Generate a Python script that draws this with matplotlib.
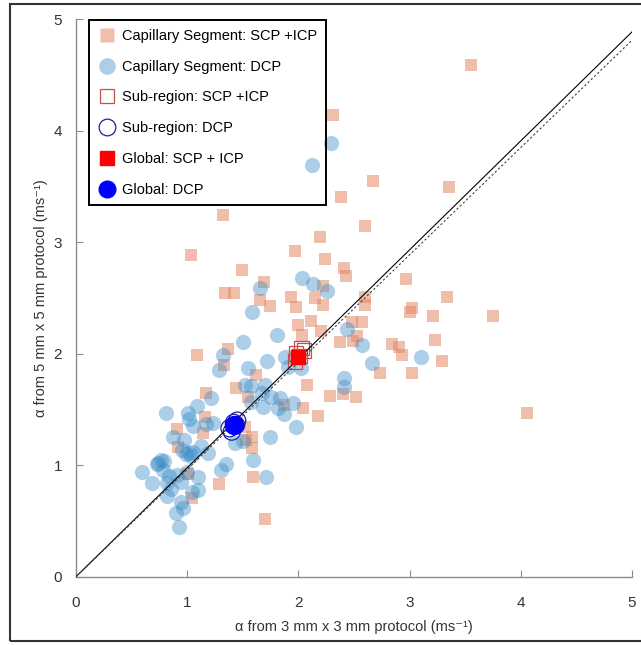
import matplotlib.pyplot as plt
from matplotlib.patches import Rectangle
from matplotlib.lines import Line2D

plt.rcParams['font.family'] = ['Liberation Sans', 'DejaVu Sans']

# capillary segments, SCP + ICP (x: 3x3 protocol, y: 5x5 protocol)
seg_scp_x = [3.55, 2.31, 1.32, 2.67, 3.35, 2.38, 2.60, 2.19, 1.03, 1.97, 2.24, 1.49, 2.41, 2.43,
             2.97, 1.69, 1.34, 1.42, 2.22, 3.34, 1.93, 1.65, 1.74, 1.98, 2.15, 2.22, 2.60, 2.60,
             3.02, 3.00, 3.21, 3.75, 3.23, 2.00, 2.11, 2.20, 2.03, 2.48, 2.57, 2.53, 2.49, 2.37,
             2.84, 2.90, 2.93, 3.29, 2.73, 3.02, 2.40, 2.52, 2.28, 2.08, 2.04, 2.18, 4.06, 1.09,
             1.37, 1.33, 1.62, 1.44, 1.17, 1.87, 1.16, 1.14, 0.91, 0.92, 1.01, 1.04, 1.29, 1.53,
             1.52, 1.58, 1.58, 1.59, 1.70, 1.55]
seg_scp_y = [4.59, 4.14, 3.24, 3.55, 3.49, 3.40, 3.14, 3.05, 2.88, 2.92, 2.85, 2.75, 2.77, 2.70,
             2.67, 2.64, 2.54, 2.54, 2.61, 2.51, 2.51, 2.48, 2.43, 2.42, 2.50, 2.44, 2.51, 2.44,
             2.41, 2.37, 2.34, 2.34, 2.12, 2.26, 2.29, 2.20, 2.17, 2.28, 2.28, 2.16, 2.11, 2.10,
             2.09, 2.06, 1.99, 1.93, 1.83, 1.83, 1.64, 1.61, 1.62, 1.72, 1.51, 1.44, 1.47, 1.99,
             2.04, 1.90, 1.81, 1.69, 1.65, 1.54, 1.43, 1.29, 1.32, 1.16, 0.92, 0.71, 0.83, 1.23,
             1.34, 1.25, 1.15, 0.89, 0.52, 1.61]

# capillary segments, DCP
seg_dcp_x = [2.29, 2.12, 1.65, 2.03, 2.13, 2.26, 1.58, 2.44, 2.57, 3.10, 2.66, 2.41, 2.41, 1.95,
             1.87, 1.98, 2.02, 1.88, 1.81, 1.50, 1.32, 1.29, 1.72, 1.55, 1.91, 1.52, 1.57, 1.70,
             1.67, 1.75, 1.68, 1.57, 1.83, 1.82, 1.21, 0.81, 1.01, 1.09, 1.02, 1.05, 1.17, 1.23,
             0.87, 0.97, 0.95, 1.02, 1.05, 1.12, 1.19, 1.00, 1.10, 0.91, 0.94, 0.84, 0.76, 0.73,
             0.78, 0.59, 0.68, 0.82, 0.85, 0.82, 0.94, 0.90, 0.96, 0.93, 1.04, 1.10, 1.30, 1.35,
             1.43, 1.50, 1.59, 1.74, 1.71, 0.74, 0.79, 0.99, 1.03]
seg_dcp_y = [3.89, 3.69, 2.59, 2.68, 2.62, 2.56, 2.37, 2.22, 2.08, 1.97, 1.92, 1.78, 1.70, 1.56,
             1.46, 1.34, 1.87, 1.97, 2.17, 2.10, 1.99, 1.85, 1.93, 1.87, 1.88, 1.72, 1.71, 1.72,
             1.65, 1.61, 1.52, 1.57, 1.60, 1.51, 1.60, 1.47, 1.47, 1.53, 1.41, 1.35, 1.37, 1.38,
             1.25, 1.23, 1.14, 1.11, 1.12, 1.17, 1.11, 0.94, 0.89, 0.91, 0.85, 0.90, 1.05, 1.01,
             0.96, 0.94, 0.84, 0.84, 0.79, 0.72, 0.67, 0.57, 0.62, 0.45, 0.76, 0.78, 0.96, 1.01,
             1.20, 1.22, 1.05, 1.25, 0.89, 1.02, 1.04, 1.10, 1.08]

# sub-region means
sub_scp_x = [1.98, 2.03, 2.05, 1.97, 2.01]
sub_scp_y = [2.00, 2.05, 2.03, 1.93, 1.98]
sub_dcp_x = [1.38, 1.42, 1.45, 1.40, 1.44]
sub_dcp_y = [1.33, 1.38, 1.40, 1.30, 1.36]

# global values
glob_scp = (2.00, 1.97)
glob_dcp = (1.42, 1.36)

# fitted lines through origin
fit_slope_solid = 0.977
fit_slope_dashed = 0.962

sq_color = '#E2805A'
dot_color = '#3A8CC8'

fig = plt.figure(figsize=(6.41, 6.45), dpi=100)
ax = fig.add_axes([0.1186, 0.1059, 0.8674, 0.8646])

ax.scatter(seg_scp_x, seg_scp_y, marker='s', s=70, color=sq_color, alpha=0.5,
           linewidths=0, zorder=2)
ax.scatter(seg_dcp_x, seg_dcp_y, marker='o', s=120, color=dot_color, alpha=0.42,
           linewidths=0, zorder=3)
ax.scatter(sub_scp_x, sub_scp_y, marker='s', s=110, facecolors='none',
           edgecolors='#C0504D', linewidths=0.9, zorder=4)
ax.scatter(sub_dcp_x, sub_dcp_y, marker='o', s=150, facecolors='none',
           edgecolors='#1F1F9F', linewidths=0.9, zorder=4)
ax.scatter([glob_scp[0]], [glob_scp[1]], marker='s', s=110, color='#FF0000', zorder=6)
ax.scatter([glob_dcp[0]], [glob_dcp[1]], marker='o', s=170, color='#0000FF', zorder=6)

xs = [0, 5]
ax.plot(xs, [fit_slope_solid * v for v in xs], color='black', lw=0.8, zorder=5)
ax.plot(xs, [fit_slope_dashed * v for v in xs], color='#404040', lw=0.8,
        ls=(0, (2, 2)), zorder=5)

ax.set_xlim(0, 5)
ax.set_ylim(0, 5)
ax.set_xticks(range(6))
ax.set_yticks(range(6))
for s in ['top', 'right']:
    ax.spines[s].set_visible(False)
for s in ['left', 'bottom']:
    ax.spines[s].set_color('#8C8C8C')
    ax.spines[s].set_linewidth(1.0)
ax.tick_params(direction='in', length=5, color='#8C8C8C', labelsize=11,
               labelcolor='#333333')
ax.tick_params(axis='x', pad=14)
ax.tick_params(axis='y', pad=10)
ax.set_xlabel('α from 3 mm x 3 mm protocol (ms⁻¹)', fontsize=10.5, color='#333333',
              labelpad=7)
ax.set_ylabel('α from 5 mm x 5 mm protocol (ms⁻¹)', fontsize=10.5, color='#333333')
ax.yaxis.set_label_coords(-0.05, 0.5)

handles = [
    Line2D([], [], ls='none', marker='s', ms=10, mfc=sq_color, mec='none', alpha=0.5),
    Line2D([], [], ls='none', marker='o', ms=12, mfc=dot_color, mec='none', alpha=0.42),
    Line2D([], [], ls='none', marker='s', ms=10, mfc='none', mec='#C0504D', mew=0.9),
    Line2D([], [], ls='none', marker='o', ms=12, mfc='none', mec='#1F1F9F', mew=0.9),
    Line2D([], [], ls='none', marker='s', ms=10, mfc='#FF0000', mec='#FF0000'),
    Line2D([], [], ls='none', marker='o', ms=12, mfc='#0000FF', mec='#0000FF'),
]
labels = ['Capillary Segment: SCP +ICP', 'Capillary Segment: DCP', 'Sub-region: SCP +ICP',
          'Sub-region: DCP', 'Global: SCP + ICP', 'Global: DCP']
leg = ax.legend(handles, labels, loc='upper left', bbox_to_anchor=(0.0234, 0.998),
                borderaxespad=0, frameon=True, fancybox=False, edgecolor='black',
                facecolor='none', fontsize=10.5, labelspacing=1.15, handletextpad=0.45,
                borderpad=0.6, handlelength=1.2)
leg.get_frame().set_linewidth(1.4)
leg.get_frame().set_alpha(None)
leg.set_zorder(10)

# outer frame
fig.patches.append(Rectangle((10 / 641, 4 / 645), 1.1, 637 / 645, transform=fig.transFigure,
                             fill=False, edgecolor='#333333', lw=1.5))

fig.savefig('out.png', dpi=100)
